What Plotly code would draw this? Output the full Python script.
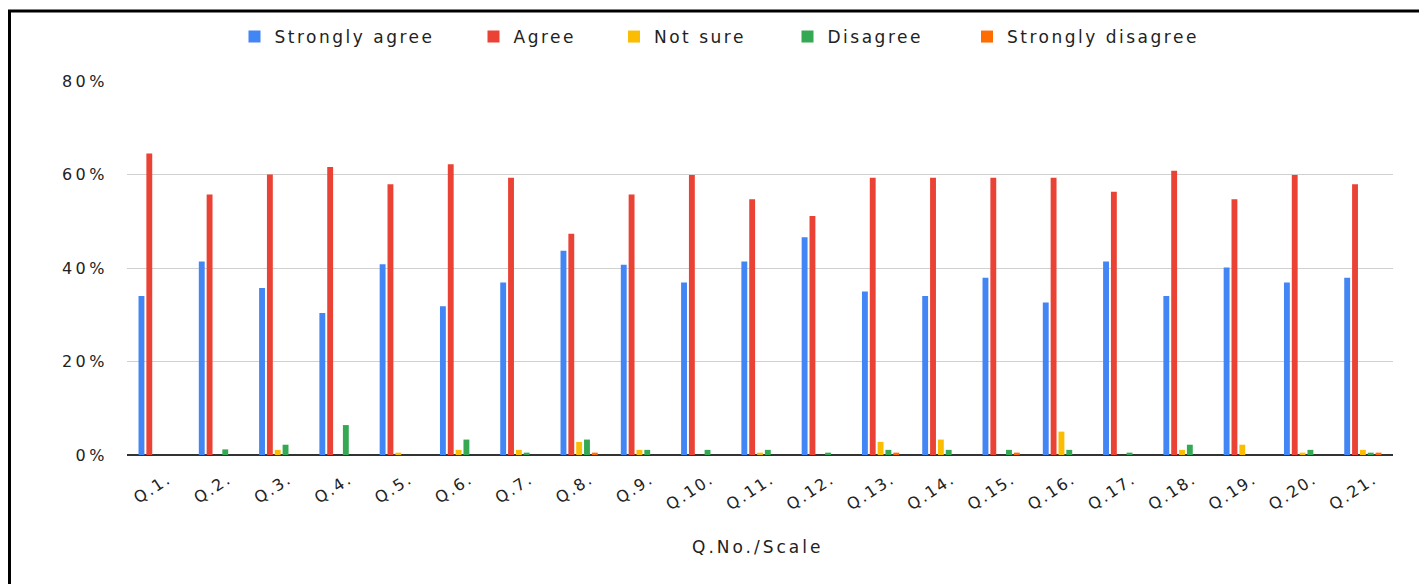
import plotly.graph_objects as go

questions = [f"Q.{i}." for i in range(1, 22)]
strongly_agree = [34.0, 41.4, 35.7, 30.4, 40.8, 31.8, 36.9, 43.7, 40.7, 36.9, 41.4,
                  46.6, 35.0, 34.0, 37.9, 32.6, 41.4, 34.0, 40.1, 36.9, 37.9]
agree = [64.5, 55.7, 60.0, 61.6, 57.9, 62.2, 59.3, 47.3, 55.7, 59.9, 54.7,
         51.1, 59.3, 59.3, 59.3, 59.3, 56.3, 60.8, 54.7, 59.9, 57.9]
not_sure = [0, 0, 1.1, 0, 0.5, 1.1, 1.1, 2.8, 1.1, 0, 0.5,
            0, 2.8, 3.3, 0, 5.0, 0, 1.1, 2.2, 0.5, 1.1]
disagree = [0, 1.2, 2.2, 6.4, 0, 3.3, 0.5, 3.3, 1.1, 1.1, 1.1,
            0.5, 1.1, 1.1, 1.1, 1.1, 0.5, 2.2, 0, 1.1, 0.5]
strongly_disagree = [0, 0, 0, 0, 0, 0, 0, 0.5, 0, 0, 0,
                     0, 0.5, 0, 0.5, 0, 0, 0, 0, 0, 0.5]

series_names = ["Strongly agree", "Agree", "Not sure", "Disagree", "Strongly disagree"]
series_values = [strongly_agree, agree, not_sure, disagree, strongly_disagree]
series_colors = ["#4285F4", "#EA4335", "#FBBC04", "#34A853", "#FF6D01"]
y_ticks = [0, 20, 40, 60, 80]

FONT = "DejaVu Sans"
TXT = "#222222"

# page body has an 8px default margin; work in screen pixels and convert
OFF = 8
W, H = 1427 - OFF, 584 - OFF
PL, PR, PT, PB = 127, 1393, 81, 455          # plot area in screen px
L, R, T, B = PL - OFF, W - (PR - OFF), PT - OFF, H - (PB - OFF)
pw, ph = PR - PL, PB - PT


def sx(px):
    return (px - PL) / pw


def sy(py):
    return (PB - py) / ph


def spaced(t, ls):
    return f'<span style="letter-spacing:{ls}px">{t}</span>'


# legend swatch centres in screen px
legend_x = [249.5, 488.5, 629, 802.5, 982]
legend_ids = ["legend", "legend2", "legend3", "legend4", "legend5"]

fig = go.Figure()
for name, vals, color, lid in zip(series_names, series_values, series_colors, legend_ids):
    fig.add_trace(go.Bar(
        x=questions, y=vals, name=spaced(name, 2.5),
        marker=dict(color=color, line=dict(width=0)),
        legend=lid, showlegend=True,
    ))

legend_layouts = {}
for lid, cx in zip(legend_ids, legend_x):
    legend_layouts[lid] = dict(
        orientation="h", x=sx(cx - 15), xanchor="left",
        y=sy(37), yanchor="middle", bgcolor="rgba(0,0,0,0)",
        font=dict(family=FONT, size=17, color=TXT), itemclick=False,
    )

fig.update_layout(
    width=W, height=H,
    showlegend=True,
    margin=dict(l=L, r=R, t=T, b=B, autoexpand=False),
    paper_bgcolor="white", plot_bgcolor="white",
    font=dict(family=FONT, size=16, color=TXT),
    barmode="group", bargap=0.35, bargroupgap=0.25,
    xaxis=dict(
        tickvals=questions,
        ticktext=[spaced(q, 2) for q in questions],
        tickangle=-33, tickfont=dict(family=FONT, size=16, color=TXT),
        showgrid=False, showline=False, ticks="",
        ticklabelshift=11, ticklabelstandoff=11,
    ),
    yaxis=dict(
        range=[0, 80],
        tickvals=y_ticks,
        ticktext=[spaced(f"{v}%", 3.5) for v in y_ticks],
        tickfont=dict(family=FONT, size=16, color=TXT),
        gridcolor="#d0d0d0", gridwidth=1,
        zeroline=True, zerolinecolor="#333333", zerolinewidth=2,
        showline=False, ticks="", ticklabelstandoff=18,
    ),
    annotations=[dict(
        text=spaced("Q.No./Scale", 3), x=sx(757), xref="paper", y=sy(547), yref="paper",
        xanchor="center", yanchor="middle", showarrow=False,
        font=dict(family=FONT, size=17, color=TXT),
    )],
    shapes=[
        dict(type="line", xref="paper", yref="paper",
             x0=sx(OFF), x1=sx(1427 + 10), y0=sy(11), y1=sy(11),
             line=dict(color="black", width=3)),
        dict(type="line", xref="paper", yref="paper",
             x0=sx(OFF + 1.5), x1=sx(OFF + 1.5), y0=sy(11), y1=sy(600),
             line=dict(color="black", width=3)),
    ],
    **legend_layouts,
)

fig.write_html("out.html")
